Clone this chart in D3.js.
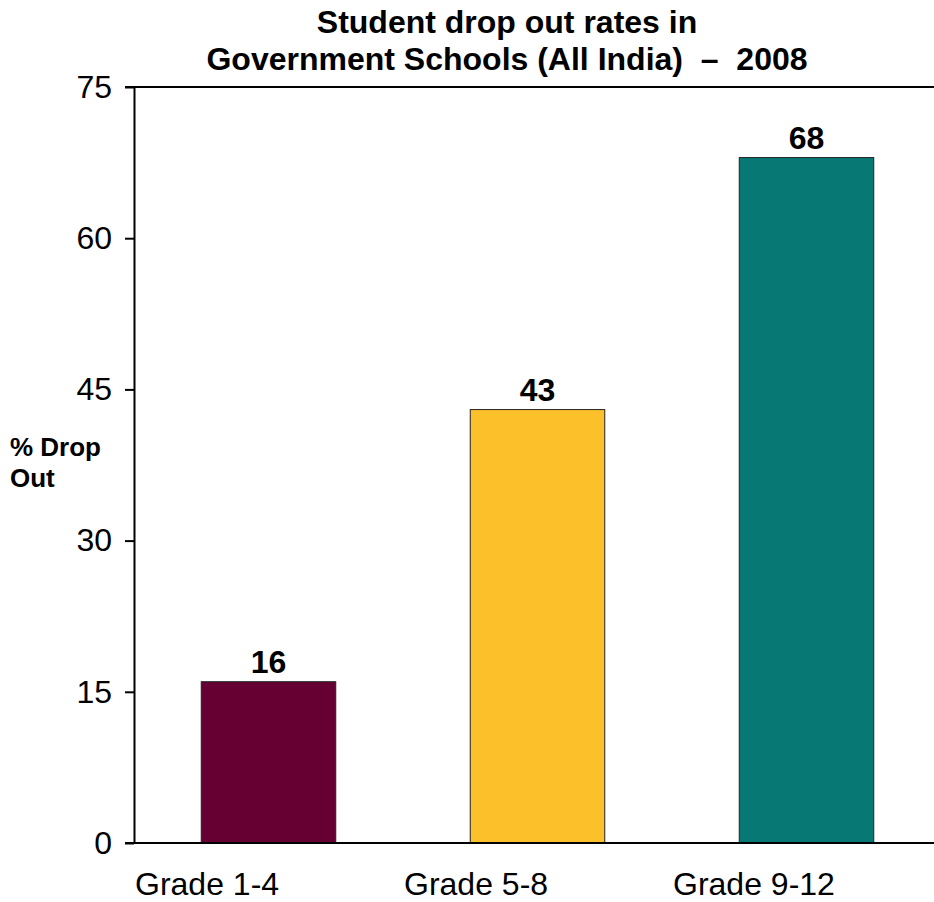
<!DOCTYPE html>
<html>
<head>
<meta charset="utf-8">
<script src="https://cdn.jsdelivr.net/npm/d3@7"></script>
<style>
  html, body { margin: 0; padding: 0; background: #fff; }
  svg { display: block; font-family: "Liberation Sans", Arial, sans-serif; }
</style>
</head>
<body>
<svg id="chart" width="934" height="902"></svg>
<script>
// Drop-out rates by grade band
const categories = ["Grade 1-4", "Grade 5-8", "Grade 9-12"];
const values = [16, 43, 68];
const barColors = ["#660033", "#FBC02A", "#077873"];
const yTicks = [0, 15, 30, 45, 60, 75];
const titleLines = ["Student drop out rates in", "Government Schools (All India)  \u2013  2008"];
const yLabelLines = ["% Drop", "Out"];

(function () {
  const svg = d3.select("#chart");
  const W = 934;
  const plotLeft = 134, plotTop = 87, plotBottom = 843;

  const y = d3.scaleLinear().domain([0, 75]).range([plotBottom, plotTop]);
  const x = d3.scaleBand().domain(categories).range([plotLeft, plotLeft + 3 * 269])
    .paddingInner(0.5).paddingOuter(0.25);

  // Title
  svg.append("g").selectAll("text").data(titleLines).join("text")
    .attr("x", 507).attr("y", (d, i) => 33 + i * 37)
    .attr("text-anchor", "middle")
    .attr("font-size", 32).attr("font-weight", "bold")
    .attr("xml:space", "preserve")
    .text(d => d);

  // Bars
  svg.append("g").selectAll("rect").data(values).join("rect")
    .attr("x", (d, i) => x(categories[i]))
    .attr("width", x.bandwidth())
    .attr("y", d => y(d))
    .attr("height", d => y(0) - y(d))
    .attr("fill", (d, i) => barColors[i])
    .attr("stroke", "#222").attr("stroke-width", 1);

  // Value labels
  svg.append("g").selectAll("text").data(values).join("text")
    .attr("x", (d, i) => x(categories[i]) + x.bandwidth() / 2)
    .attr("y", d => y(d) - 9)
    .attr("text-anchor", "middle")
    .attr("font-size", 32).attr("font-weight", "bold")
    .text(d => d);

  // Y axis
  const yAxis = svg.append("g").attr("transform", `translate(${plotLeft},0)`)
    .call(d3.axisLeft(y).tickValues(yTicks).tickSize(9).tickPadding(13).tickSizeOuter(0));
  yAxis.select(".domain").attr("stroke", "#000").attr("stroke-width", 2);
  yAxis.selectAll(".tick line").attr("stroke", "#000").attr("stroke-width", 2);
  yAxis.selectAll(".tick text").attr("font-size", 32).attr("fill", "#000")
    .attr("font-family", "'Liberation Sans', Arial, sans-serif");

  // Top frame line and baseline
  svg.append("line").attr("x1", plotLeft - 9).attr("x2", W).attr("y1", plotTop).attr("y2", plotTop)
    .attr("stroke", "#000").attr("stroke-width", 2);
  svg.append("line").attr("x1", plotLeft - 9).attr("x2", W).attr("y1", plotBottom).attr("y2", plotBottom)
    .attr("stroke", "#000").attr("stroke-width", 2);

  // Category labels, left-aligned at the start of each category slot
  const slotStart = d => x(d) - x.step() * x.paddingOuter();
  svg.append("g").selectAll("text").data(categories).join("text")
    .attr("x", d => slotStart(d) + 1)
    .attr("y", 895)
    .attr("text-anchor", "start")
    .attr("font-size", 32)
    .text(d => d);

  // Y axis title
  svg.append("g").selectAll("text").data(yLabelLines).join("text")
    .attr("x", 10).attr("y", (d, i) => 456 + i * 31)
    .attr("font-size", 26).attr("font-weight", "bold")
    .text(d => d);
})();
</script>
</body>
</html>
